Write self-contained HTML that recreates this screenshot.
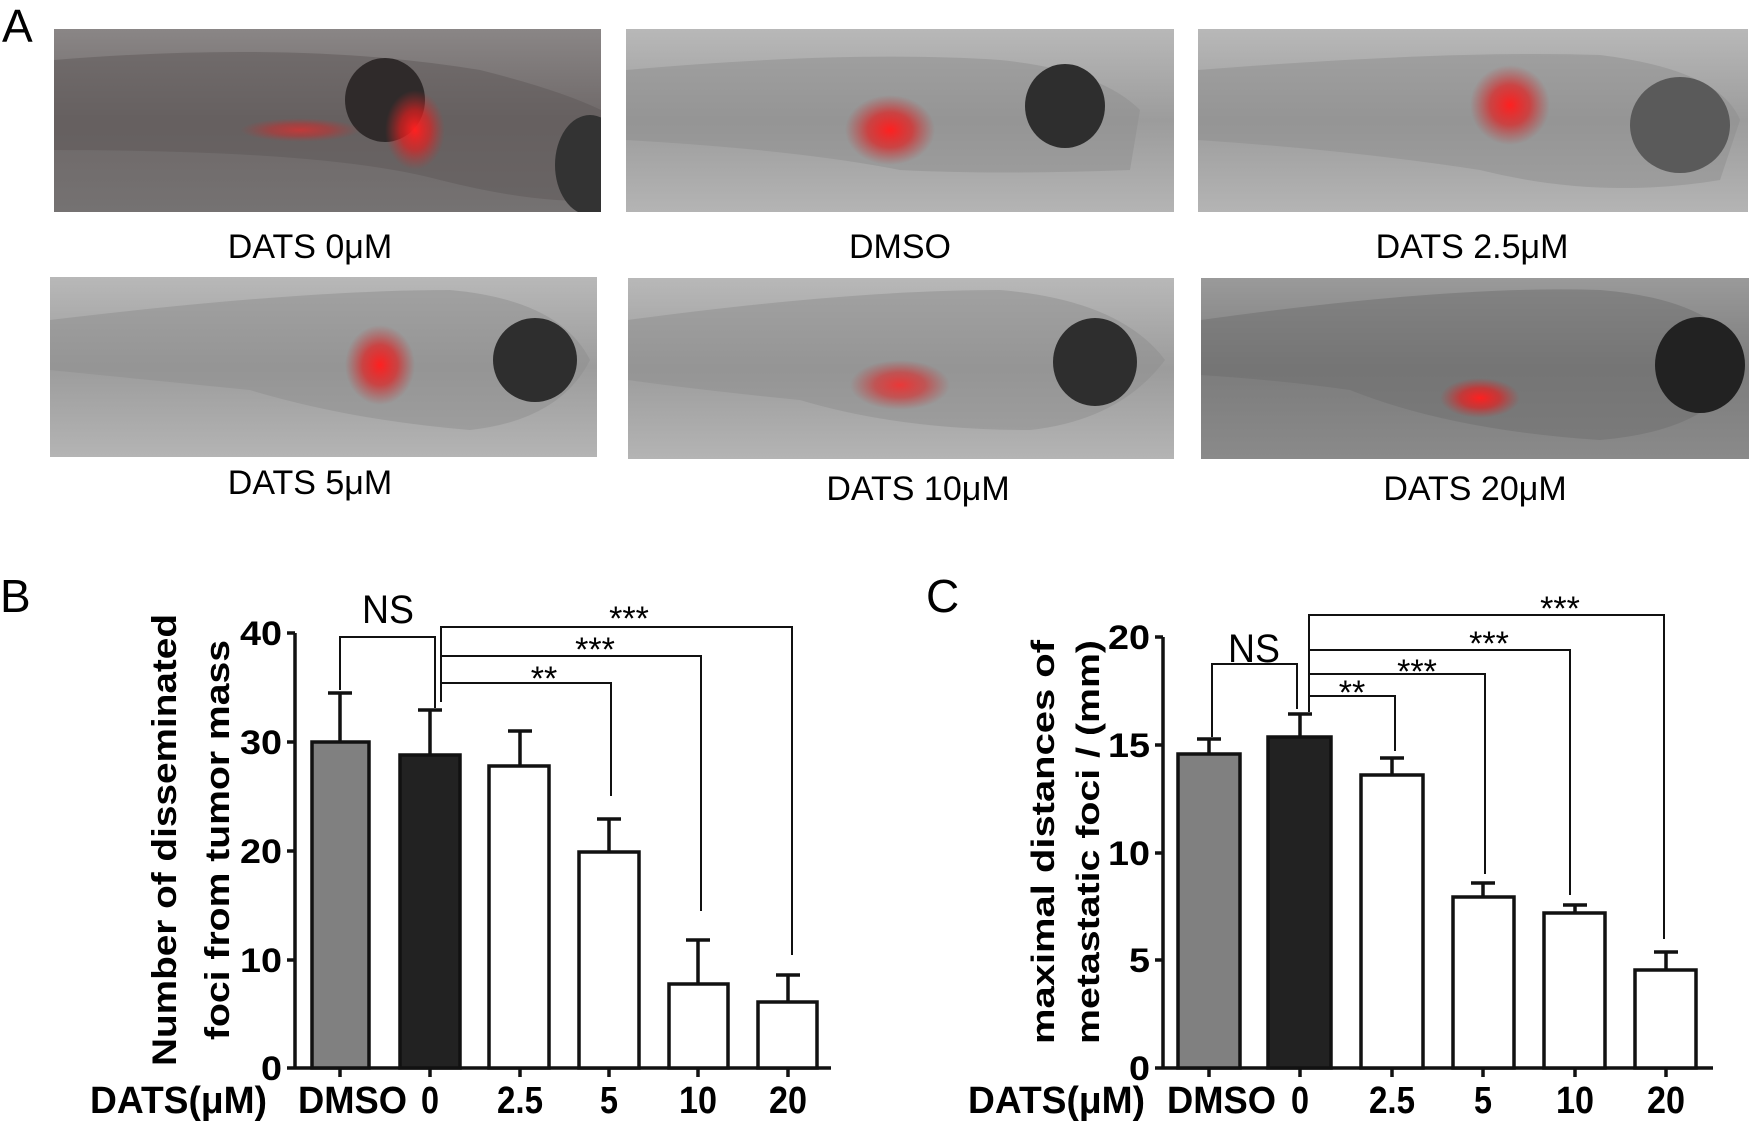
<!DOCTYPE html>
<html><head><meta charset="utf-8"><style>html,body{margin:0;padding:0;background:#fff}svg{display:block}</style></head>
<body>
<svg width="1751" height="1124" viewBox="0 0 1751 1124" xmlns="http://www.w3.org/2000/svg" font-family="Liberation Sans, Arial, sans-serif">
<defs>
<linearGradient id="g1" x1="0" y1="0" x2="0" y2="1"><stop offset="0" stop-color="#8a8686"/><stop offset="0.5" stop-color="#6e6868"/><stop offset="1" stop-color="#757272"/></linearGradient>
<linearGradient id="g2" x1="0" y1="0" x2="0" y2="1"><stop offset="0" stop-color="#b8b8b8"/><stop offset="0.5" stop-color="#9c9c9c"/><stop offset="1" stop-color="#b4b4b4"/></linearGradient>
<linearGradient id="g3" x1="0" y1="0" x2="0" y2="1"><stop offset="0" stop-color="#9a9a9a"/><stop offset="0.5" stop-color="#7c7c7c"/><stop offset="1" stop-color="#8a8a8a"/></linearGradient>
<radialGradient id="red"><stop offset="0" stop-color="#ff2020"/><stop offset="0.5" stop-color="#e02020" stop-opacity="0.7"/><stop offset="1" stop-color="#c03030" stop-opacity="0"/></radialGradient>
<clipPath id="c1"><rect x="54" y="29" width="547" height="183"/></clipPath>
</defs>

<text x="2" y="42" font-size="46">A</text>
<g clip-path="url(#c1)">
<rect x="54" y="29" width="547" height="183" fill="url(#g1)"/>
<path d="M54 60 Q300 40 480 70 Q560 90 601 110 L601 200 Q540 205 440 180 Q330 150 54 150 Z" fill="#5e5858" opacity="0.5"/>
<ellipse cx="385" cy="100" rx="40" ry="42" fill="#2f2a2a"/>
<ellipse cx="590" cy="165" rx="35" ry="50" fill="#333"/>
<ellipse cx="415" cy="130" rx="30" ry="40" fill="url(#red)"/>
<ellipse cx="300" cy="130" rx="60" ry="12" fill="url(#red)" opacity="0.6"/>
</g>
<text x="310" y="258" font-size="34" text-anchor="middle">DATS 0μM</text>
<rect x="626" y="29" width="548" height="183" fill="url(#g2)"/>
<path d="M626 70 Q850 50 1000 60 Q1100 70 1140 110 L1130 170 Q1000 175 900 170 Q800 150 626 140 Z" fill="#8e8e8e" opacity="0.5"/>
<ellipse cx="1065" cy="106" rx="40" ry="42" fill="#2e2e2e"/>
<ellipse cx="890" cy="130" rx="45" ry="35" fill="url(#red)"/>
<text x="900" y="258" font-size="34" text-anchor="middle">DMSO</text>
<rect x="1198" y="29" width="550" height="183" fill="url(#g2)"/>
<path d="M1198 70 Q1450 50 1600 55 Q1720 70 1740 120 L1720 180 Q1600 200 1480 170 Q1350 150 1198 140 Z" fill="#8e8e8e" opacity="0.5"/>
<ellipse cx="1680" cy="125" rx="50" ry="48" fill="#5a5a5a"/>
<ellipse cx="1510" cy="105" rx="40" ry="40" fill="url(#red)"/>
<text x="1472" y="258" font-size="34" text-anchor="middle">DATS 2.5μM</text>
<rect x="50" y="277" width="547" height="180" fill="url(#g2)"/>
<path d="M50 320 Q300 290 450 290 Q560 300 590 360 Q560 420 470 430 Q350 420 250 390 Q150 380 50 370 Z" fill="#8e8e8e" opacity="0.5"/>
<ellipse cx="535" cy="360" rx="42" ry="42" fill="#2e2e2e"/>
<ellipse cx="380" cy="365" rx="35" ry="40" fill="url(#red)"/>
<text x="310" y="494" font-size="34" text-anchor="middle">DATS 5μM</text>
<rect x="628" y="278" width="546" height="181" fill="url(#g2)"/>
<path d="M628 320 Q850 290 1000 290 Q1120 300 1165 360 Q1120 420 1030 430 Q900 430 800 400 Q700 390 628 380 Z" fill="#8e8e8e" opacity="0.5"/>
<ellipse cx="1095" cy="362" rx="42" ry="44" fill="#2e2e2e"/>
<ellipse cx="900" cy="385" rx="50" ry="25" fill="url(#red)" opacity="0.8"/>
<text x="918" y="500" font-size="34" text-anchor="middle">DATS 10μM</text>
<rect x="1201" y="278" width="548" height="181" fill="url(#g3)"/>
<path d="M1201 320 Q1450 285 1600 290 Q1720 300 1745 360 Q1720 430 1600 440 Q1450 430 1350 390 Q1280 380 1201 375 Z" fill="#6e6e6e" opacity="0.5"/>
<ellipse cx="1700" cy="365" rx="45" ry="48" fill="#222"/>
<ellipse cx="1480" cy="398" rx="40" ry="20" fill="url(#red)"/>
<text x="1475" y="500" font-size="34" text-anchor="middle">DATS 20μM</text>

<!-- Panel B -->
<text x="0" y="612" font-size="46">B</text>
<g stroke="#111" stroke-width="3.5" fill="none">
<line x1="295" y1="633" x2="295" y2="1068"/>
<line x1="287" y1="1068" x2="831" y2="1068"/>
<line x1="287" y1="633" x2="295" y2="633"/><line x1="287" y1="742" x2="295" y2="742"/><line x1="287" y1="851" x2="295" y2="851"/><line x1="287" y1="960" x2="295" y2="960"/>
<line x1="340" y1="1068" x2="340" y2="1077"/><line x1="430" y1="1068" x2="430" y2="1077"/><line x1="520" y1="1068" x2="520" y2="1077"/><line x1="609" y1="1068" x2="609" y2="1077"/><line x1="698" y1="1068" x2="698" y2="1077"/><line x1="788" y1="1068" x2="788" y2="1077"/>
<line x1="340" y1="742" x2="340" y2="693"/><line x1="328" y1="693" x2="352" y2="693"/>
<line x1="430" y1="755" x2="430" y2="710"/><line x1="418" y1="710" x2="442" y2="710"/>
<line x1="520" y1="766" x2="520" y2="731"/><line x1="508" y1="731" x2="532" y2="731"/>
<line x1="609" y1="852" x2="609" y2="819"/><line x1="597" y1="819" x2="621" y2="819"/>
<line x1="698" y1="984" x2="698" y2="940"/><line x1="686" y1="940" x2="710" y2="940"/>
<line x1="788" y1="1002" x2="788" y2="975"/><line x1="776" y1="975" x2="800" y2="975"/>
</g>
<g stroke="#111" stroke-width="3.5">
<rect x="312" y="742" width="57" height="326" fill="#808080"/>
<rect x="400" y="755" width="60" height="313" fill="#222"/>
<rect x="489" y="766" width="60" height="302" fill="#fff"/>
<rect x="579" y="852" width="60" height="216" fill="#fff"/>
<rect x="669" y="984" width="59" height="84" fill="#fff"/>
<rect x="758" y="1002" width="59" height="66" fill="#fff"/>
</g>
<g stroke="#111" stroke-width="2" fill="none">
<polyline points="340,690 340,637 435,637 435,708"/>
<polyline points="441,702 441,627 792,627 792,955"/>
<polyline points="441,656 701,656 701,911"/>
<polyline points="441,683 611,683 611,796"/>
</g>
<g font-size="34" text-anchor="middle">
<text x="388" y="623" font-size="40" textLength="52" lengthAdjust="spacingAndGlyphs">NS</text>
<text x="629" y="630">***</text><text x="595" y="661">***</text><text x="544" y="690">**</text>
</g>
<g font-size="34" font-weight="bold" text-anchor="end">
<text x="282" y="645" textLength="42" lengthAdjust="spacingAndGlyphs">40</text>
<text x="282" y="754" textLength="42" lengthAdjust="spacingAndGlyphs">30</text>
<text x="282" y="863" textLength="42" lengthAdjust="spacingAndGlyphs">20</text>
<text x="282" y="972" textLength="42" lengthAdjust="spacingAndGlyphs">10</text>
<text x="282" y="1080" textLength="21" lengthAdjust="spacingAndGlyphs">0</text>
</g>
<g font-size="38" font-weight="bold">
<text x="90" y="1113" textLength="177" lengthAdjust="spacingAndGlyphs">DATS(μM)</text>
<text x="298" y="1113" textLength="109" lengthAdjust="spacingAndGlyphs">DMSO</text>
<text x="421" y="1113" textLength="18" lengthAdjust="spacingAndGlyphs">0</text>
<text x="520" y="1113" text-anchor="middle" textLength="46" lengthAdjust="spacingAndGlyphs">2.5</text>
<text x="609" y="1113" text-anchor="middle" textLength="18" lengthAdjust="spacingAndGlyphs">5</text>
<text x="698" y="1113" text-anchor="middle" textLength="38" lengthAdjust="spacingAndGlyphs">10</text>
<text x="788" y="1113" text-anchor="middle" textLength="38" lengthAdjust="spacingAndGlyphs">20</text>
</g>
<g font-size="34" font-weight="bold" text-anchor="middle">
<text transform="translate(176,840) rotate(-90)" textLength="452" lengthAdjust="spacingAndGlyphs">Number of disseminated</text>
<text transform="translate(229,840) rotate(-90)" textLength="400" lengthAdjust="spacingAndGlyphs">foci from tumor mass</text>
</g>

<!-- Panel C -->
<text x="926" y="612" font-size="46">C</text>
<g stroke="#111" stroke-width="3.5" fill="none">
<line x1="1163" y1="637" x2="1163" y2="1068"/>
<line x1="1155" y1="1068" x2="1713" y2="1068"/>
<line x1="1155" y1="637" x2="1163" y2="637"/><line x1="1155" y1="745" x2="1163" y2="745"/><line x1="1155" y1="853" x2="1163" y2="853"/><line x1="1155" y1="960" x2="1163" y2="960"/>
<line x1="1209" y1="1068" x2="1209" y2="1077"/><line x1="1300" y1="1068" x2="1300" y2="1077"/><line x1="1392" y1="1068" x2="1392" y2="1077"/><line x1="1483" y1="1068" x2="1483" y2="1077"/><line x1="1575" y1="1068" x2="1575" y2="1077"/><line x1="1666" y1="1068" x2="1666" y2="1077"/>
<line x1="1209" y1="754" x2="1209" y2="739"/><line x1="1197" y1="739" x2="1221" y2="739"/>
<line x1="1300" y1="737" x2="1300" y2="714"/><line x1="1288" y1="714" x2="1312" y2="714"/>
<line x1="1392" y1="775" x2="1392" y2="758"/><line x1="1380" y1="758" x2="1404" y2="758"/>
<line x1="1483" y1="897" x2="1483" y2="883"/><line x1="1471" y1="883" x2="1495" y2="883"/>
<line x1="1575" y1="913" x2="1575" y2="905"/><line x1="1563" y1="905" x2="1587" y2="905"/>
<line x1="1666" y1="970" x2="1666" y2="952"/><line x1="1654" y1="952" x2="1678" y2="952"/>
</g>
<g stroke="#111" stroke-width="3.5">
<rect x="1178" y="754" width="62" height="314" fill="#808080"/>
<rect x="1268" y="737" width="63" height="331" fill="#222"/>
<rect x="1361" y="775" width="62" height="293" fill="#fff"/>
<rect x="1453" y="897" width="61" height="171" fill="#fff"/>
<rect x="1544" y="913" width="61" height="155" fill="#fff"/>
<rect x="1635" y="970" width="61" height="98" fill="#fff"/>
</g>
<g stroke="#111" stroke-width="2" fill="none">
<polyline points="1212,737 1212,664 1297,664 1297,709"/>
<polyline points="1309,712 1309,615 1664,615 1664,939"/>
<polyline points="1309,650 1570,650 1570,895"/>
<polyline points="1309,674 1485,674 1485,874"/>
<polyline points="1309,696 1395,696 1395,751"/>
</g>
<g font-size="34" text-anchor="middle">
<text x="1254" y="662" font-size="40" textLength="52" lengthAdjust="spacingAndGlyphs">NS</text>
<text x="1560" y="620">***</text><text x="1489" y="655">***</text><text x="1417" y="683">***</text><text x="1352" y="704">**</text>
</g>
<g font-size="34" font-weight="bold" text-anchor="end">
<text x="1150" y="649" textLength="42" lengthAdjust="spacingAndGlyphs">20</text>
<text x="1150" y="757" textLength="42" lengthAdjust="spacingAndGlyphs">15</text>
<text x="1150" y="865" textLength="42" lengthAdjust="spacingAndGlyphs">10</text>
<text x="1150" y="972" textLength="21" lengthAdjust="spacingAndGlyphs">5</text>
<text x="1150" y="1080" textLength="21" lengthAdjust="spacingAndGlyphs">0</text>
</g>
<g font-size="38" font-weight="bold">
<text x="968" y="1113" textLength="177" lengthAdjust="spacingAndGlyphs">DATS(μM)</text>
<text x="1167" y="1113" textLength="109" lengthAdjust="spacingAndGlyphs">DMSO</text>
<text x="1291" y="1113" textLength="18" lengthAdjust="spacingAndGlyphs">0</text>
<text x="1392" y="1113" text-anchor="middle" textLength="46" lengthAdjust="spacingAndGlyphs">2.5</text>
<text x="1483" y="1113" text-anchor="middle" textLength="18" lengthAdjust="spacingAndGlyphs">5</text>
<text x="1575" y="1113" text-anchor="middle" textLength="38" lengthAdjust="spacingAndGlyphs">10</text>
<text x="1666" y="1113" text-anchor="middle" textLength="38" lengthAdjust="spacingAndGlyphs">20</text>
</g>
<g font-size="32" font-weight="bold" text-anchor="middle">
<text transform="translate(1054,842) rotate(-90)" textLength="404" lengthAdjust="spacingAndGlyphs">maximal distances of</text>
<text transform="translate(1099,842) rotate(-90)" textLength="404" lengthAdjust="spacingAndGlyphs">metastatic foci / (mm)</text>
</g>
</svg>
</body></html>
